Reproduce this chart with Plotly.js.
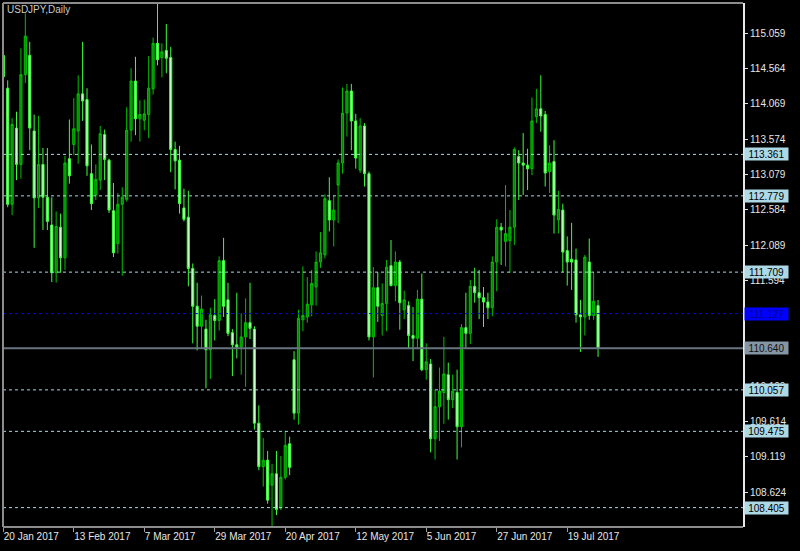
<!DOCTYPE html>
<html>
<head>
<meta charset="utf-8">
<script src="https://cdn.plot.ly/plotly-3.0.1.min.js"></script>
<style>html,body{margin:0;padding:0;background:#000;}#chart{width:800px;height:551px;}</style>
</head>
<body>
<div id="chart"></div>
<script>
// Trading days (categories)
var dates = [
"2017-01-20","2017-01-23","2017-01-24","2017-01-25","2017-01-26","2017-01-27","2017-01-30","2017-01-31",
"2017-02-01","2017-02-02","2017-02-03","2017-02-06","2017-02-07","2017-02-08","2017-02-09","2017-02-10",
"2017-02-13","2017-02-14","2017-02-15","2017-02-16","2017-02-17","2017-02-20","2017-02-21","2017-02-22",
"2017-02-23","2017-02-24","2017-02-27","2017-02-28",
"2017-03-01","2017-03-02","2017-03-03","2017-03-06","2017-03-07","2017-03-08","2017-03-09","2017-03-10",
"2017-03-13","2017-03-14","2017-03-15","2017-03-16","2017-03-17","2017-03-20","2017-03-21","2017-03-22",
"2017-03-23","2017-03-24","2017-03-27","2017-03-28","2017-03-29","2017-03-30","2017-03-31",
"2017-04-03","2017-04-04","2017-04-05","2017-04-06","2017-04-07","2017-04-10","2017-04-11","2017-04-12",
"2017-04-13","2017-04-14","2017-04-17","2017-04-18","2017-04-19","2017-04-20","2017-04-21","2017-04-24",
"2017-04-25","2017-04-26","2017-04-27","2017-04-28",
"2017-05-01","2017-05-02","2017-05-03","2017-05-04","2017-05-05","2017-05-08","2017-05-09","2017-05-10",
"2017-05-11","2017-05-12","2017-05-15","2017-05-16","2017-05-17","2017-05-18","2017-05-19","2017-05-22",
"2017-05-23","2017-05-24","2017-05-25","2017-05-26","2017-05-29","2017-05-30","2017-05-31",
"2017-06-01","2017-06-02","2017-06-05","2017-06-06","2017-06-07","2017-06-08","2017-06-09","2017-06-12",
"2017-06-13","2017-06-14","2017-06-15","2017-06-16","2017-06-19","2017-06-20","2017-06-21","2017-06-22",
"2017-06-23","2017-06-26","2017-06-27","2017-06-28","2017-06-29","2017-06-30",
"2017-07-03","2017-07-04","2017-07-05","2017-07-06","2017-07-07","2017-07-10","2017-07-11","2017-07-12",
"2017-07-13","2017-07-14","2017-07-17","2017-07-18","2017-07-19","2017-07-20","2017-07-21","2017-07-24",
"2017-07-25","2017-07-26","2017-07-27","2017-07-28"
];

var openP = [
114.75,114.29,112.66,113.73,113.22,114.48,114.75,113.69,112.75,113.22,
112.76,112.37,111.70,112.34,111.91,113.30,113.50,113.69,114.21,114.13,
113.09,112.79,113.00,113.64,113.28,112.57,112.11,112.66,112.73,113.70,
114.39,113.86,113.84,113.92,114.28,114.92,114.72,114.82,114.72,113.43,
113.28,112.61,112.48,111.76,111.23,110.95,110.91,110.62,111.10,111.03,
111.87,111.32,110.86,110.69,110.66,110.80,111.00,110.91,109.59,108.98,
109.07,108.72,108.88,108.40,108.83,109.30,110.48,109.73,111.04,111.08,
111.25,111.50,111.85,111.95,112.71,112.44,112.93,113.24,113.94,114.25,
113.83,113.14,113.76,113.09,110.80,111.49,111.10,111.27,111.80,111.52,
111.85,111.18,111.24,110.82,110.78,111.33,110.34,110.42,109.37,109.82,
110.02,110.27,109.92,110.02,109.54,110.93,110.85,111.51,111.42,111.35,
111.29,111.21,111.85,112.34,112.14,112.15,112.34,113.33,113.24,113.21,
113.16,113.89,114.00,113.92,113.12,113.26,112.44,112.58,112.01,111.89,
111.88,111.11,111.08,111.85,111.10,111.24
];
var highP = [
114.85,114.40,113.87,113.96,114.85,115.34,114.94,113.92,113.90,113.45,
113.45,112.76,112.56,112.53,113.34,113.85,114.15,114.47,114.94,114.29,
113.50,113.22,113.76,113.71,113.30,112.96,112.82,112.90,114.02,114.57,
114.73,114.12,114.13,114.74,115.00,115.48,114.92,115.19,114.87,113.54,
113.48,112.88,112.85,111.83,111.56,111.38,111.04,111.21,111.33,111.93,
112.19,111.56,110.91,111.42,111.13,111.34,111.56,110.95,109.84,109.38,
109.20,109.02,109.20,109.13,109.48,109.40,110.60,111.18,111.79,111.64,
111.74,112.00,112.27,112.80,113.04,112.79,113.29,114.30,114.35,114.35,
113.93,113.87,113.80,113.12,111.78,111.71,111.55,111.88,112.16,112.00,
111.88,111.45,111.30,111.22,111.46,111.69,110.71,110.49,110.06,110.37,
110.80,110.44,110.27,110.34,110.98,111.42,111.60,111.77,111.74,111.50,
111.42,111.93,112.45,112.40,112.93,112.58,113.46,113.42,113.66,113.44,
114.16,114.28,114.47,113.97,113.49,113.56,112.85,112.67,112.21,112.40,
112.04,111.32,111.95,112.18,111.71,111.32
];
var lowP = [
114.40,112.62,112.51,113.00,113.02,114.36,113.42,112.05,112.61,112.30,
112.30,111.57,111.56,111.70,111.74,112.95,113.35,113.23,113.83,113.06,
112.58,112.72,112.86,113.00,112.54,111.92,111.97,111.66,112.70,113.54,
113.63,113.54,113.70,113.59,114.20,114.61,114.44,114.50,113.11,112.87,
112.53,112.42,111.51,110.71,110.61,110.64,110.08,110.21,110.75,110.89,
111.08,110.81,110.25,110.50,110.27,110.10,110.77,109.50,108.93,108.70,
108.46,108.13,108.30,108.37,108.80,108.86,109.64,109.57,110.88,111.00,
111.09,111.24,111.77,111.90,112.28,112.07,112.40,113.09,113.61,113.42,
113.16,113.10,112.91,110.75,110.23,111.01,110.82,110.88,111.51,111.30,
110.90,111.05,110.64,110.46,110.64,110.32,110.20,109.18,109.08,109.34,
109.58,109.64,109.80,109.08,109.25,110.63,110.70,111.28,111.05,110.94,
111.05,111.09,111.44,111.81,111.79,111.70,112.09,112.72,112.79,112.86,
113.07,113.80,113.68,112.91,112.82,112.25,112.25,111.71,111.52,111.46,
111.00,110.59,110.82,111.04,111.04,110.52
];
var closeP = [
114.45,112.66,113.78,113.22,114.48,115.02,113.73,112.75,113.22,112.76,
112.42,111.70,112.35,111.91,113.24,113.06,113.72,114.21,114.11,113.20,
112.67,113.01,113.65,113.29,112.58,111.98,112.66,112.76,113.70,114.39,
113.86,113.92,113.93,114.29,114.92,114.69,114.80,114.71,113.43,113.27,
112.67,112.45,111.76,111.23,110.95,111.19,110.62,111.11,111.03,111.87,
111.23,110.85,110.69,110.66,110.80,111.00,110.92,109.59,108.98,109.07,
108.51,108.88,108.38,108.83,109.28,108.97,109.73,111.06,111.10,111.26,
111.55,111.85,111.98,112.74,112.44,112.58,113.24,113.94,114.25,113.83,
113.31,113.76,113.09,110.80,111.49,111.23,111.27,111.78,111.52,111.85,
111.28,111.32,110.82,110.78,111.33,110.34,110.45,109.37,109.82,110.04,
110.28,109.92,110.04,109.54,110.93,110.85,111.51,111.42,111.35,111.29,
111.21,111.85,112.34,112.30,112.25,112.34,113.43,113.24,113.21,113.16,
113.83,114.00,113.90,113.10,113.24,112.51,112.59,111.99,111.85,111.85,
111.11,111.08,111.92,111.10,111.30,110.64
];

// Axis ticks
var xTickVals = ["2017-01-20","2017-02-13","2017-03-07","2017-03-29","2017-04-20","2017-05-12","2017-06-05","2017-06-27","2017-07-19"];
var xTickText = ["20 Jan 2017","13 Feb 2017","7 Mar 2017","29 Mar 2017","20 Apr 2017","12 May 2017","5 Jun 2017","27 Jun 2017","19 Jul 2017"];
var yTickVals = [115.059,114.564,114.069,113.574,113.079,112.584,112.089,111.594,111.099,110.604,110.109,109.614,109.119,108.624];
// labels fully hidden behind the level boxes in the original are left blank
var yTickText = ["115.059","114.564","114.069","113.574","113.079","112.584","112.089","111.594","","","110.109","109.614","109.119","108.624"];

// Horizontal levels
var levels = [113.361,112.779,111.709,110.057,109.475,108.405];
var blueLevel = 111.127;
var bidLevel = 110.640;

var FONT = "Liberation Sans, Arial, sans-serif";

var trace = {
  type: "candlestick",
  x: dates, open: openP, high: highP, low: lowP, close: closeP,
  increasing: {line: {color: "#00c000", width: 1}, fillcolor: "#008a00"},
  decreasing: {line: {color: "#3cff3c", width: 1}, fillcolor: "#c8ffc8"},
  whiskerwidth: 0,
  hoverinfo: "skip",
  showlegend: false
};

var shapes = [];
var annotations = [];
function box(v, bg, fg) {
  annotations.push({xref:"paper", x:1, xanchor:"left", xshift:1, yref:"y", y:v, yanchor:"middle",
    text: v.toFixed(3), showarrow:false, bgcolor:bg, borderpad:1, width:41, height:10, align:"center",
    font:{family:FONT, size:10, color:fg}});
}
levels.forEach(function(v){
  shapes.push({type:"line", xref:"paper", x0:0, x1:1, yref:"y", y0:v, y1:v,
    line:{color:"#a8d8e6", width:1, dash:"3px,3px"}});
  box(v, "#add8e6", "#000000");
});
shapes.push({type:"line", xref:"paper", x0:0, x1:1, yref:"y", y0:blueLevel, y1:blueLevel,
  line:{color:"#0000ff", width:1, dash:"3px,3px"}});
box(blueLevel, "#0000ff", "#000090");
shapes.push({type:"line", xref:"paper", x0:0, x1:1, yref:"y", y0:bidLevel, y1:bidLevel,
  line:{color:"#687480", width:2}});
box(bidLevel, "#8595a3", "#101010");
// frame (top, left, bottom)
shapes.push({type:"line", xref:"paper", yref:"paper", x0:0, x1:1, y0:1, y1:1, line:{color:"#8c8c8c", width:2}});
shapes.push({type:"line", xref:"paper", yref:"paper", x0:0, x1:0, y0:0, y1:1, line:{color:"#8c8c8c", width:2}});
shapes.push({type:"line", xref:"paper", yref:"paper", x0:0, x1:1, y0:0, y1:0, line:{color:"#8c8c8c", width:2}});

var layout = {
  width: 800, height: 551,
  paper_bgcolor: "#000000", plot_bgcolor: "#000000",
  margin: {l: 3, r: 57, t: 3, b: 24},
  title: {text: "USDJPY,Daily", x: 7/800, xanchor: "left", y: 1 - 9/551, yanchor: "middle",
          font: {family: FONT, size: 10, color: "#c8c8c8"}},
  showlegend: false,
  hovermode: false,
  xaxis: {
    type: "category", range: [-0.07, 167.9], rangeslider: {visible: false},
    tickmode: "array", tickvals: xTickVals, ticktext: xTickText,
    ticks: "outside", ticklen: 4, tickcolor: "#9a9a9a", tickwidth: 1,
    ticklabelposition: "outside right",
    tickfont: {family: FONT, size: 10, color: "#e6e6e6"},
    showgrid: false, zeroline: false, showline: false, fixedrange: true
  },
  yaxis: {
    side: "right", range: [108.133, 115.485],
    tickmode: "array", tickvals: yTickVals, ticktext: yTickText,
    ticks: "outside", ticklen: 3, tickcolor: "#e0e0e0", tickwidth: 1,
    tickfont: {family: FONT, size: 10, color: "#e6e6e6"},
    showgrid: false, zeroline: false, showline: true, linecolor: "#e8e8e8", linewidth: 2,
    fixedrange: true
  },
  shapes: shapes,
  annotations: annotations
};

Plotly.newPlot("chart", [trace], layout, {displayModeBar: false, staticPlot: true});
</script>
</body>
</html>
